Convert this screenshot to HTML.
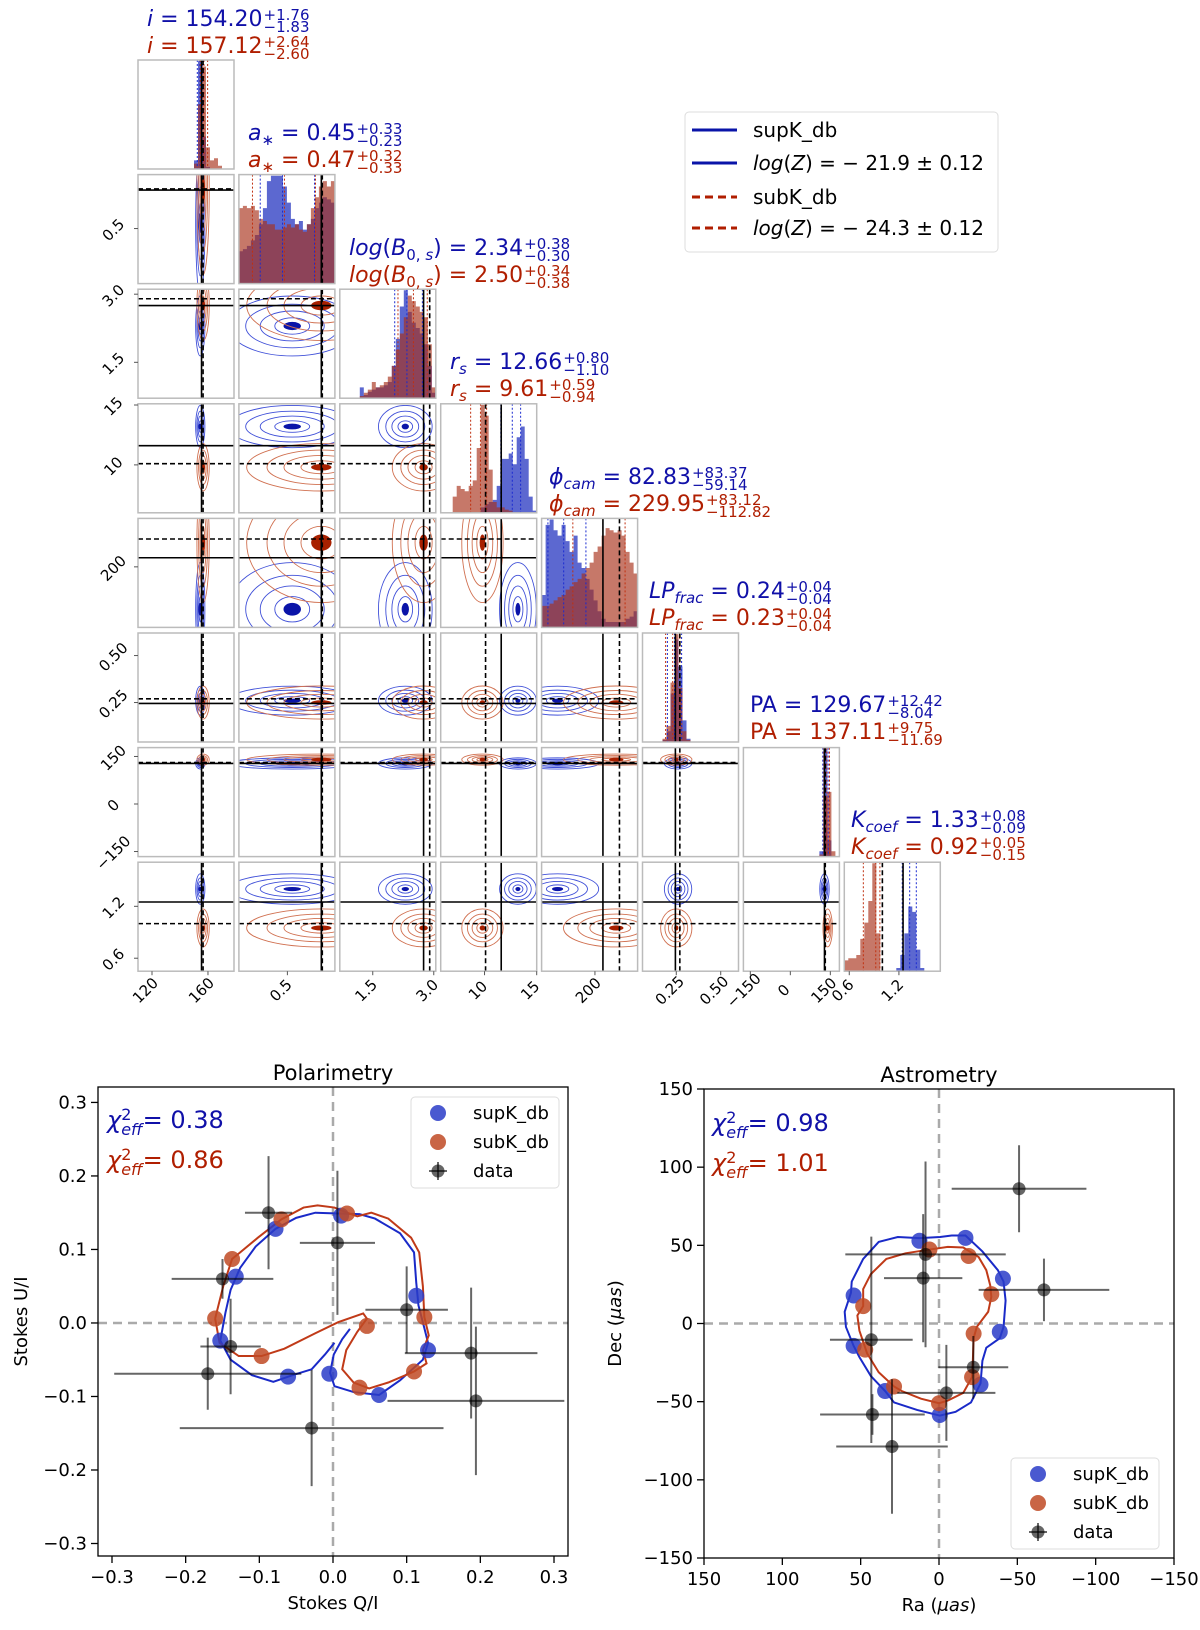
<!DOCTYPE html>
<html><head><meta charset="utf-8">
<style>
body{margin:0;background:#fff;}
#wrap{position:relative;width:1200px;height:1630px;overflow:hidden;font-family:"DejaVu Sans","Liberation Sans",sans-serif;}
svg{position:absolute;left:0;top:0;}
.ttl{position:absolute;font-size:22px;line-height:27px;white-space:nowrap;}
.ttl .b{color:#1010a8;}
.ttl .r{color:#b01e00;}
.pm{display:inline-block;vertical-align:-6px;font-size:15px;line-height:12px;margin-left:1px;}
.pm span{display:block;}
sub{font-size:15px;vertical-align:-5px;line-height:0;}
.chi{position:absolute;font-size:24px;line-height:40px;white-space:nowrap;}
.chi .st{display:inline-block;vertical-align:-7px;font-size:16px;line-height:15px;}
.chi .st span{display:block;}
</style></head><body>
<div id="wrap">
<svg id="fig" width="1200" height="1630" viewBox="0 0 1200 1630" xmlns="http://www.w3.org/2000/svg"></svg>

<div class="ttl" style="left:147px;top:6px"><div class="b"><i>i</i> = 154.20<span class="pm"><span>+1.76</span><span>−1.83</span></span></div><div class="r"><i>i</i> = 157.12<span class="pm"><span>+2.64</span><span>−2.60</span></span></div></div>
<div class="ttl" style="left:248px;top:120px"><div class="b"><i>a</i><sub>∗</sub> = 0.45<span class="pm"><span>+0.33</span><span>−0.23</span></span></div><div class="r"><i>a</i><sub>∗</sub> = 0.47<span class="pm"><span>+0.32</span><span>−0.33</span></span></div></div>
<div class="ttl" style="left:349px;top:235px"><div class="b"><i>log</i>(<i>B</i><sub>0, <i>s</i></sub>) = 2.34<span class="pm"><span>+0.38</span><span>−0.30</span></span></div><div class="r"><i>log</i>(<i>B</i><sub>0, <i>s</i></sub>) = 2.50<span class="pm"><span>+0.34</span><span>−0.38</span></span></div></div>
<div class="ttl" style="left:450px;top:349px"><div class="b"><i>r</i><sub><i>s</i></sub> = 12.66<span class="pm"><span>+0.80</span><span>−1.10</span></span></div><div class="r"><i>r</i><sub><i>s</i></sub> = 9.61<span class="pm"><span>+0.59</span><span>−0.94</span></span></div></div>
<div class="ttl" style="left:549px;top:464px"><div class="b"><i>ϕ</i><sub><i>cam</i></sub> = 82.83<span class="pm"><span>+83.37</span><span>−59.14</span></span></div><div class="r"><i>ϕ</i><sub><i>cam</i></sub> = 229.95<span class="pm"><span>+83.12</span><span>−112.82</span></span></div></div>
<div class="ttl" style="left:649px;top:578px"><div class="b"><i>LP</i><sub><i>frac</i></sub> = 0.24<span class="pm"><span>+0.04</span><span>−0.04</span></span></div><div class="r"><i>LP</i><sub><i>frac</i></sub> = 0.23<span class="pm"><span>+0.04</span><span>−0.04</span></span></div></div>
<div class="ttl" style="left:750px;top:692px"><div class="b">PA = 129.67<span class="pm"><span>+12.42</span><span>−8.04</span></span></div><div class="r">PA = 137.11<span class="pm"><span>+9.75</span><span>−11.69</span></span></div></div>
<div class="ttl" style="left:851px;top:807px"><div class="b"><i>K</i><sub><i>coef</i></sub> = 1.33<span class="pm"><span>+0.08</span><span>−0.09</span></span></div><div class="r"><i>K</i><sub><i>coef</i></sub> = 0.92<span class="pm"><span>+0.05</span><span>−0.15</span></span></div></div>

<div class="chi" style="left:107px;top:1100px;color:#1010a8"><i>χ</i><span class="st"><span>2</span><span><i>eff</i></span></span>= 0.38</div>
<div class="chi" style="left:107px;top:1140px;color:#b01e00"><i>χ</i><span class="st"><span>2</span><span><i>eff</i></span></span>= 0.86</div>
<div class="chi" style="left:712px;top:1103px;color:#1010a8"><i>χ</i><span class="st"><span>2</span><span><i>eff</i></span></span>= 0.98</div>
<div class="chi" style="left:712px;top:1143px;color:#b01e00"><i>χ</i><span class="st"><span>2</span><span><i>eff</i></span></span>= 1.01</div>
</div>

<script>
// ---------- corner plot data ----------
const params = ["i","a","logB","rs","phi","LP","PA","K"];
const xMin = [110,0,0.69,5.8,0,0.06,-176,0.54];
const xMax = [178.6,0.99,3.05,15.0,360,0.6,184,1.70];
const yMin = [110,0,0.71,6.0,0,0.04,-166,0.45];
const yMax = [178.6,0.99,3.11,15.1,360,0.62,178,1.71];
const truthSolid = [155.4,0.85,2.75,11.6,230,0.245,128,1.25];
const truthDashed = [156.5,0.86,2.9,10.1,292,0.27,131,1.0];
const blueMed = [154.20,0.45,2.34,12.66,82.83,0.24,129.67,1.33];
const blueHi = [1.76,0.33,0.38,0.80,83.37,0.04,12.42,0.08];
const blueLo = [1.83,0.23,0.30,1.10,59.14,0.04,8.04,0.09];
const redMed = [157.12,0.47,2.50,9.61,229.95,0.23,137.11,0.92];
const redHi = [2.64,0.32,0.34,0.59,83.12,0.04,9.75,0.05];
const redLo = [2.60,0.33,0.38,0.94,112.82,0.04,11.69,0.15];
const blueMode = [154.5,0.55,2.3,13.2,60,0.26,128,1.40];
const redMode = [156.5,0.85,2.75,9.8,280,0.25,140,0.95];
const blueSd = [1.5,0.3,0.3,0.8,70,0.035,8,0.08];
const redSd = [2,0.35,0.35,0.9,90,0.04,8,0.1];
const histBlue = [
 [0,0,0,0,0,0,0,0,0,0,0,0,0,0,0.08,1.0,0.3,0.02,0,0,0,0,0,0],
 [0.3,0.32,0.35,0.4,0.45,0.55,0.7,0.95,1,1,1,0.9,0.75,0.6,0.55,0.58,0.5,0.55,0.6,0.7,0.75,0.8,0.78,0.75],
 [0,0,0,0,0,0.1,0.03,0.06,0.08,0.1,0.1,0.12,0.15,0.3,0.55,0.85,1.0,0.8,0.7,0.65,0.6,0.5,0.3,0.05],
 [0,0,0,0,0,0,0,0,0,0,0.05,0.08,0.1,0.12,0.25,0.5,0.5,0.55,0.45,0.7,0.8,0.5,0.15,0.02],
 [0.3,0.95,1.0,0.9,0.85,0.95,0.8,0.7,0.85,0.6,0.55,0.45,0.35,0.25,0.15,0.08,0.05,0.05,0.05,0.05,0.05,0.08,0.1,0.15],
 [0,0,0,0,0,0.02,0.1,0.45,0.95,0.7,0.2,0.03,0,0,0,0,0,0,0,0,0,0,0,0],
 [0,0,0,0,0,0,0,0,0,0,0,0,0,0,0,0,0,0,0,0.05,1.0,0.15,0,0],
 [0,0,0,0,0,0,0,0,0,0,0,0,0,0.03,0.15,0.35,0.6,0.55,0.2,0.03,0,0,0,0]
];
const histRed = [
 [0,0,0,0,0,0,0,0,0,0,0,0,0,0,0.05,0.6,0.95,0.2,0.08,0.1,0.03,0,0,0],
 [0.7,0.72,0.7,0.72,0.68,0.6,0.58,0.55,0.55,0.5,0.5,0.52,0.55,0.52,0.55,0.5,0.48,0.55,0.7,0.8,0.9,0.95,0.9,0.95],
 [0,0,0,0,0,0.02,0.05,0.08,0.15,0.1,0.12,0.15,0.2,0.3,0.45,0.6,0.75,0.95,0.9,0.85,0.8,0.75,0.5,0.1],
 [0,0,0,0.15,0.25,0.22,0.2,0.25,0.3,0.6,1.0,0.9,0.4,0.1,0.05,0.05,0.03,0.02,0,0,0,0,0,0],
 [0.2,0.2,0.22,0.25,0.28,0.3,0.35,0.38,0.42,0.45,0.5,0.55,0.6,0.7,0.75,0.85,0.92,0.9,0.88,0.9,0.85,0.7,0.6,0.5],
 [0,0,0,0,0,0.03,0.15,0.55,1.0,0.5,0.1,0.02,0,0,0,0,0,0,0,0,0,0,0,0],
 [0,0,0,0,0,0,0,0,0,0,0,0,0,0,0,0,0,0,0,0.02,0.55,0.6,0.05,0],
 [0.1,0.12,0.12,0.15,0.3,0.45,0.65,1.0,0.35,0,0,0,0,0,0,0,0,0,0,0,0,0,0,0]
];
const yTickVals = [[],[0.5],[1.5,3.0],[10,15],[200],[0.25,0.50],[-150,0,150],[0.6,1.2]];
const yTickLabels = [[],["0.5"],["1.5","3.0"],["10","15"],["200"],["0.25","0.50"],["−150","0","150"],["0.6","1.2"]];
const xTickVals = [[120,160],[0.5],[1.5,3.0],[10,15],[200],[0.25,0.50],[-150,0,150],[0.6,1.2]];
const xTickLabels = [["120","160"],["0.5"],["1.5","3.0"],["10","15"],["200"],["0.25","0.50"],["−150","0","150"],["0.6","1.2"]];

// ---------- polarimetry data ----------
const polDataQ = [-0.0875,0.006,-0.15,0.10,-0.139,-0.170,0.1875,0.194,-0.029];
const polDataU = [0.150,0.109,0.060,0.018,-0.032,-0.069,-0.041,-0.106,-0.143];
const polErrQ = [0.032,0.051,0.069,0.056,0.041,0.127,0.09,0.12,0.179];
const polErrU = [0.077,0.098,0.027,0.059,0.065,0.049,0.089,0.101,0.079];
const polSupQ = [-0.132,-0.078,0.011,0.113,0.129,0.0625,-0.005,-0.061,-0.153];
const polSupU = [0.063,0.128,0.146,0.037,-0.037,-0.098,-0.069,-0.073,-0.024];
const polSubQ = [0.019,-0.070,-0.137,-0.160,-0.097,0.046,0.036,0.110,0.124];
const polSubU = [0.149,0.141,0.087,0.006,-0.045,-0.004,-0.088,-0.066,0.008];
const polSupCurveQ = [0.023,0.0125,0.001,-0.004,0.002,0.028,0.0625,0.091,0.122,0.129,0.124,0.116,0.113,0.110,0.091,0.057,0.036,0.007,-0.024,-0.050,-0.078,-0.105,-0.126,-0.139,-0.146,-0.153,-0.139,-0.110,-0.081,-0.055,-0.029,-0.011,0.002];
const polSupCurveU = [-0.008,-0.022,-0.043,-0.068,-0.086,-0.094,-0.098,-0.078,-0.050,-0.027,-0.007,0.024,0.055,0.096,0.122,0.142,0.148,0.149,0.150,0.143,0.128,0.104,0.075,0.045,0.014,-0.024,-0.050,-0.071,-0.080,-0.071,-0.063,-0.043,-0.027];
const polSubCurveQ = [-0.160,-0.154,-0.128,-0.097,-0.066,-0.024,0.007,0.041,0.046,0.033,0.018,0.0125,0.028,0.049,0.075,0.110,0.127,0.122,0.130,0.124,0.122,0.117,0.106,0.075,0.052,0.033,0.019,0.002,-0.021,-0.040,-0.070,-0.102,-0.126,-0.137,-0.149,-0.160];
const polSubCurveU = [0.006,-0.027,-0.045,-0.045,-0.035,-0.014,0.001,0.013,0.006,-0.012,-0.037,-0.063,-0.081,-0.089,-0.081,-0.066,-0.055,-0.037,-0.017,0.008,0.050,0.096,0.116,0.142,0.150,0.145,0.150,0.157,0.160,0.157,0.141,0.116,0.096,0.087,0.050,0.006];
const polTicks = [-0.3,-0.2,-0.1,0.0,0.1,0.2,0.3];
const polTickLabels = ["−0.3","−0.2","−0.1","0.0","0.1","0.2","0.3"];

// ---------- astrometry data ----------
const astDataRa = [-51.1,-67.0,8.6,10.1,43.2,-21.9,-4.7,42.5,30];
const astDataDec = [86.2,21.5,44.2,29,-10.4,-28,-44.4,-58.2,-78.7];
const astErrRa = [43,41.7,51.2,25,26.4,22.3,31.3,33.4,35.6];
const astErrDec = [27.8,20,59.4,41,66,20,30.7,13,43];
const astSupRa = [12.5,-16.9,-40.8,54.5,-38.8,54.5,-26.5,34.4,-0.5];
const astSupDec = [52.9,54.8,28.7,17.9,-5.3,-14.3,-39.1,-43.2,-58.5];
const astSubRa = [6.1,-18.9,-33.4,48.4,-22.1,47.1,-21.1,28.7,0];
const astSubDec = [47.3,43.2,18.8,11.1,-6.5,-16.7,-34.3,-40.3,-51];
const astSupCurveRa = [12.5,-0.7,-8.1,-16.9,-27.7,-37.6,-41.2,-42.5,-41.2,-38.8,-30.2,-27.7,-26.5,-20.4,-10.6,-0.5,14.0,28.7,34.4,43.5,50.8,54.5,59.4,60.2,56.2,55.7,48.4,38.5,26.3,12.5];
const astSupCurveDec = [54.6,55.3,56.3,56.3,46.1,34.1,26.8,14.7,-2.2,-9.4,-15.5,-23.9,-38.4,-50.5,-56.5,-58.9,-55.3,-50.5,-43.2,-33.6,-21.5,-14.3,-2.2,7.5,19.6,26.8,41.3,52.2,55.3,54.6];
const astSubCurveRa = [6.1,-5.6,-15.5,-25.3,-30.2,-32.7,-33.4,-31.4,-24.1,-22.1,-21.6,-21.1,-15.5,-5.6,0,11.5,23.8,28.7,38.5,45.9,50.8,52.1,48.4,48.4,43.5,33.6,21.4,6.1];
const astSubCurveDec = [47.3,49.0,48.6,42.5,34.1,24.4,17.1,7.5,-2.2,-9.4,-23.9,-34.3,-44.4,-49.3,-51,-48.1,-43.2,-40.3,-31.2,-19.1,-4.6,5.1,11.1,22.0,31.6,41.3,44.9,47.3];
const astTicks = [150,100,50,0,-50,-100,-150];
const astTickLabels = ["150","100","50","0","−50","−100","−150"];

const NS = "http://www.w3.org/2000/svg";
const svg = document.getElementById("fig");
function mk(tag, attrs, parent){
  const e = document.createElementNS(NS, tag);
  for (const k in attrs) e.setAttribute(k, attrs[k]);
  (parent || svg).appendChild(e);
  return e;
}
const defs = mk("defs", {});
const PW = 96, PH = 109;
function colX(c){ return 138 + c*100.9; }
function rowY(r){ return 60 + r*114.6; }
function sx(p, v){ return colX(p) + (v - xMin[p])/(xMax[p]-xMin[p])*PW; }
function sy(p, r, v){ return rowY(r) + (yMax[p]-v)/(yMax[p]-yMin[p])*PH; }

// ---------- corner panels ----------
for (let r = 0; r < 8; r++){
  for (let c = 0; c <= r; c++){
    const x0 = colX(c), y0 = rowY(r);
    const cp = mk("clipPath", {id:"cp"+r+"_"+c}, defs);
    mk("rect", {x:x0, y:y0, width:PW, height:PH}, cp);
    const g = mk("g", {"clip-path":"url(#cp"+r+"_"+c+")"});
    
    
    if (r === c){
      const p = c;
      const n = histBlue[p].length;
      const bw = (xMax[p]-xMin[p])/n;
      [[histBlue[p], "#2636c0", 0.75, "hist-blue-"], [histRed[p], "#a83018", 0.65, "hist-red-"]].forEach(function(h){
        let d = "M"+x0+","+(y0+PH);
        for (let k = 0; k < n; k++){
          const yy = y0 + PH - h[0][k]*PH*0.99;
          d += " L"+sx(p, xMin[p]+k*bw)+","+yy+" L"+sx(p, xMin[p]+(k+1)*bw)+","+yy;
        }
        d += " L"+(x0+PW)+","+(y0+PH)+" Z";
        const path = mk("path", {d:d, fill:h[1], "fill-opacity":h[2], stroke:"none"}, g);
        
        
      });
      [[blueMed[p], blueLo[p], blueHi[p], "#1a2ad0"], [redMed[p], redLo[p], redHi[p], "#c03010"]].forEach(function(q){
        [q[0]-q[1], q[0], q[0]+q[2]].forEach(function(v){
          const xx = sx(p, v);
          const ln = mk("line", {x1:xx, x2:xx, y1:y0, y2:y0+PH, stroke:q[3], "stroke-width":1, "stroke-dasharray":"2,2"}, g);
          
          
        });
      });
    } else {
      const px = c, py = r;
      [[blueMode, blueSd, "#4050d8", "#0a14a8", "contour-blue"], [redMode, redSd, "#d07050", "#a82000", "contour-red"]].forEach(function(s){
        const cx = sx(px, s[0][px]), cy = sy(py, r, s[0][py]);
        const ux = s[1][px]/(xMax[px]-xMin[px])*PW, uy = s[1][py]/(yMax[py]-yMin[py])*PH;
        [0.6, 1.1, 1.6, 2.2].forEach(function(k){
          const el = mk("ellipse", {cx:cx, cy:cy, rx:k*ux, ry:k*uy, fill:"none", stroke:s[2], "stroke-width":0.9}, g);
          
          
        });
        const core = mk("ellipse", {cx:cx, cy:cy, rx:Math.max(2,0.3*ux), ry:Math.max(2,0.3*uy), fill:s[3]}, g);
        
        
      });
      const yy1 = sy(py, r, truthSolid[py]), yy2 = sy(py, r, truthDashed[py]);
      const h1 = mk("line", {x1:x0, x2:x0+PW, y1:yy1, y2:yy1, stroke:"#000", "stroke-width":1.6}, g);
      
      
      const h2 = mk("line", {x1:x0, x2:x0+PW, y1:yy2, y2:yy2, stroke:"#000", "stroke-width":1.6, "stroke-dasharray":"5,3"}, g);
      
      
    }
    const xv1 = sx(c, truthSolid[c]), xv2 = sx(c, truthDashed[c]);
    const v1 = mk("line", {x1:xv1, x2:xv1, y1:y0, y2:y0+PH, stroke:"#000", "stroke-width":1.6}, g);
    
    
    const v2 = mk("line", {x1:xv2, x2:xv2, y1:y0, y2:y0+PH, stroke:"#000", "stroke-width":1.6, "stroke-dasharray":"5,3"}, g);
    
    
    const fr = mk("rect", {x:x0, y:y0, width:PW, height:PH, fill:"none", stroke:"#bbb", "stroke-width":1.5});
    
    
  }
}
// corner ticks
for (let r = 1; r < 8; r++){
  yTickVals[r].forEach(function(v, k){
    const yy = sy(r, r, v);
    const t = mk("line", {x1:colX(0)-4, x2:colX(0), y1:yy, y2:yy, stroke:"#555", "stroke-width":1});
    
    
    const lb = mk("text", {x:117, y:yy+5, "text-anchor":"middle", "font-size":15, transform:"rotate(-45 117 "+(yy+5)+")"});
    lb.textContent = yTickLabels[r][k];
    
    
  });
}
for (let c = 0; c < 8; c++){
  xTickVals[c].forEach(function(v, k){
    const xx = sx(c, v);
    const t = mk("line", {x1:xx, x2:xx, y1:rowY(7)+PH, y2:rowY(7)+PH+4, stroke:"#555", "stroke-width":1});
    
    
    const lb = mk("text", {x:xx-3, y:994, "text-anchor":"middle", "font-size":15, transform:"rotate(-45 "+(xx-3)+" 994)"});
    lb.textContent = xTickLabels[c][k];
    
    
  });
}
// top legend
const lg = mk("g", {});


mk("rect", {x:685, y:112, width:313, height:140, rx:4, fill:"#fff", stroke:"#ddd", "stroke-width":1}, lg);
const legRows = [["#0a14a8","","supK_db",false],["#0a14a8","","log",true],["#b01e00","8,5","subK_db",false],["#b01e00","8,5","log",true]];
const legZ = ["","= − 21.9 ± 0.12","","= − 24.3 ± 0.12"];
[130,163,197,228].forEach(function(yy, k){
  const ln = mk("line", {x1:692, x2:737, y1:yy, y2:yy, stroke:legRows[k][0], "stroke-width":3, "stroke-dasharray":legRows[k][1]||"none"}, lg);
  
  
  const tx = mk("text", {x:753, y:yy+7, "font-size":20}, lg);
  
  
  if (legRows[k][3]){
    const a = mk("tspan", {"font-style":"italic"}, tx); a.textContent = "log";
    const b = mk("tspan", {}, tx); b.textContent = "(";
    const z = mk("tspan", {"font-style":"italic"}, tx); z.textContent = "Z";
    const e = mk("tspan", {}, tx); e.textContent = ") " + legZ[k];
  } else { tx.textContent = legRows[k][2]; }
});

// ---------- bottom plots ----------
function scatterPanel(o){
  const X = function(v){ return o.x0 + (v - o.xa)/(o.xb - o.xa)*(o.x1 - o.x0); };
  const Y = function(v){ return o.y0 + (o.ya - v)/(o.ya - o.yb)*(o.y1 - o.y0); };
  const g = mk("g", {});
  
  
  const cp = mk("clipPath", {id:"cp"+o.name}, defs);
  mk("rect", {x:o.x0, y:o.y0, width:o.x1-o.x0, height:o.y1-o.y0}, cp);
  const inner = mk("g", {"clip-path":"url(#cp"+o.name+")"}, g);
  const r0a = mk("line", {x1:X(0), x2:X(0), y1:o.y0, y2:o.y1, stroke:"#aaa", "stroke-width":2.5, "stroke-dasharray":"9,6"}, inner);
  
  
  const r0b = mk("line", {x1:o.x0, x2:o.x1, y1:Y(0), y2:Y(0), stroke:"#aaa", "stroke-width":2.5, "stroke-dasharray":"9,6"}, inner);
  
  
  [[o.supCx, o.supCy, "#1a2ac8", "model-curve-supK"], [o.subCx, o.subCy, "#c03a18", "model-curve-subK"]].forEach(function(cv){
    let pts = "";
    for (let k = 0; k < cv[0].length; k++) pts += X(cv[0][k]) + "," + Y(cv[1][k]) + " ";
    const pl = mk("polyline", {points:pts, fill:"none", stroke:cv[2], "stroke-width":2}, inner);
    
    
  });
  [[o.supX, o.supY, "#2a3cc8", "model-point-supK"], [o.subX, o.subY, "#c04a24", "model-point-subK"]].forEach(function(s){
    for (let k = 0; k < s[0].length; k++){
      const ci = mk("circle", {cx:X(s[0][k]), cy:Y(s[1][k]), r:8, fill:s[2], "fill-opacity":0.85}, inner);
      
      
    }
  });
  for (let k = 0; k < o.dX.length; k++){
    const eg = mk("g", {stroke:"#000", "stroke-opacity":0.6, "stroke-width":2}, inner);
    
    
    mk("line", {x1:X(o.dX[k]-o.eX[k]), x2:X(o.dX[k]+o.eX[k]), y1:Y(o.dY[k]), y2:Y(o.dY[k])}, eg);
    mk("line", {x1:X(o.dX[k]), x2:X(o.dX[k]), y1:Y(o.dY[k]-o.eY[k]), y2:Y(o.dY[k]+o.eY[k])}, eg);
    const dc = mk("circle", {cx:X(o.dX[k]), cy:Y(o.dY[k]), r:6.5, fill:"#000", "fill-opacity":0.6}, inner);
    
    
  }
  const frame = mk("rect", {x:o.x0, y:o.y0, width:o.x1-o.x0, height:o.y1-o.y0, fill:"none", stroke:"#000", "stroke-width":1.3}, g);
  
  
  o.ticks.forEach(function(v, k){
    const xx = X(v), yy = Y(v);
    const tx = mk("line", {x1:xx, x2:xx, y1:o.y1, y2:o.y1+7, stroke:"#000", "stroke-width":1.3}, g);
    
    
    const lx = mk("text", {x:xx, y:o.y1+27, "text-anchor":"middle", "font-size":18}, g);
    lx.textContent = o.tickLabels[k];
    
    
    const ty = mk("line", {x1:o.x0-7, x2:o.x0, y1:yy, y2:yy, stroke:"#000", "stroke-width":1.3}, g);
    
    
    const ly = mk("text", {x:o.x0-11, y:yy+6, "text-anchor":"end", "font-size":18}, g);
    ly.textContent = o.tickLabels[k];
    
    
  });
  const title = mk("text", {x:(o.x0+o.x1)/2, y:o.y0-7, "text-anchor":"middle", "font-size":21}, g);
  title.textContent = o.title;
  
  
  const xl = mk("text", {x:(o.x0+o.x1)/2, y:o.y1+53, "text-anchor":"middle", "font-size":18}, g);
  
  
  const ycx = o.ylabX, ycy = (o.y0+o.y1)/2;
  const yl = mk("text", {x:ycx, y:ycy, "text-anchor":"middle", "font-size":18, transform:"rotate(-90 "+ycx+" "+ycy+")"}, g);
  
  
  if (o.mu){
    let a = mk("tspan", {}, xl); a.textContent = "Ra (";
    a = mk("tspan", {"font-style":"italic"}, xl); a.textContent = "μas";
    a = mk("tspan", {}, xl); a.textContent = ")";
    a = mk("tspan", {}, yl); a.textContent = "Dec (";
    a = mk("tspan", {"font-style":"italic"}, yl); a.textContent = "μas";
    a = mk("tspan", {}, yl); a.textContent = ")";
  } else { xl.textContent = o.xlab; yl.textContent = o.ylab; }
  const L = mk("g", {}, g);
  
  
  mk("rect", {x:o.lx, y:o.ly, width:148, height:91, rx:4, fill:"#fff", "fill-opacity":0.85, stroke:"#ddd"}, L);
  const names = ["supK_db","subK_db","data"];
  const cols = ["#2a3cc8","#c04a24","#000"];
  [16,45,74].forEach(function(dy, k){
    const mx = o.lx+27, my = o.ly+dy;
    if (k === 2){
      mk("line", {x1:mx-9, x2:mx+9, y1:my, y2:my, stroke:"#000", "stroke-opacity":0.6, "stroke-width":2}, L);
      mk("line", {x1:mx, x2:mx, y1:my-9, y2:my+9, stroke:"#000", "stroke-opacity":0.6, "stroke-width":2}, L);
    }
    const m = mk("circle", {cx:mx, cy:my, r:k===2?6.5:8, fill:cols[k], "fill-opacity":k===2?0.6:0.85}, L);
    
    
    const t = mk("text", {x:o.lx+62, y:my+6, "font-size":18}, L);
    t.textContent = names[k];
    
    
  });
}
scatterPanel({name:"polarimetry", title:"Polarimetry", x0:98, x1:568, y0:1087, y1:1556, xa:-0.319, xb:0.319, ya:0.321, yb:-0.317,
  ticks:polTicks, tickLabels:polTickLabels, xlab:"Stokes Q/I", ylab:"Stokes U/I", ylabX:27,
  dX:polDataQ, dY:polDataU, eX:polErrQ, eY:polErrU, supX:polSupQ, supY:polSupU, subX:polSubQ, subY:polSubU,
  supCx:polSupCurveQ, supCy:polSupCurveU, subCx:polSubCurveQ, subCy:polSubCurveU, lx:411, ly:1097});
scatterPanel({name:"astrometry", title:"Astrometry", x0:704, x1:1174, y0:1089, y1:1558, xa:150, xb:-150, ya:150, yb:-150,
  ticks:astTicks, tickLabels:astTickLabels, mu:true, ylabX:621,
  dX:astDataRa, dY:astDataDec, eX:astErrRa, eY:astErrDec, supX:astSupRa, supY:astSupDec, subX:astSubRa, subY:astSubDec,
  supCx:astSupCurveRa, supCy:astSupCurveDec, subCx:astSubCurveRa, subCy:astSubCurveDec, lx:1011, ly:1458});
</script>
</body></html>
